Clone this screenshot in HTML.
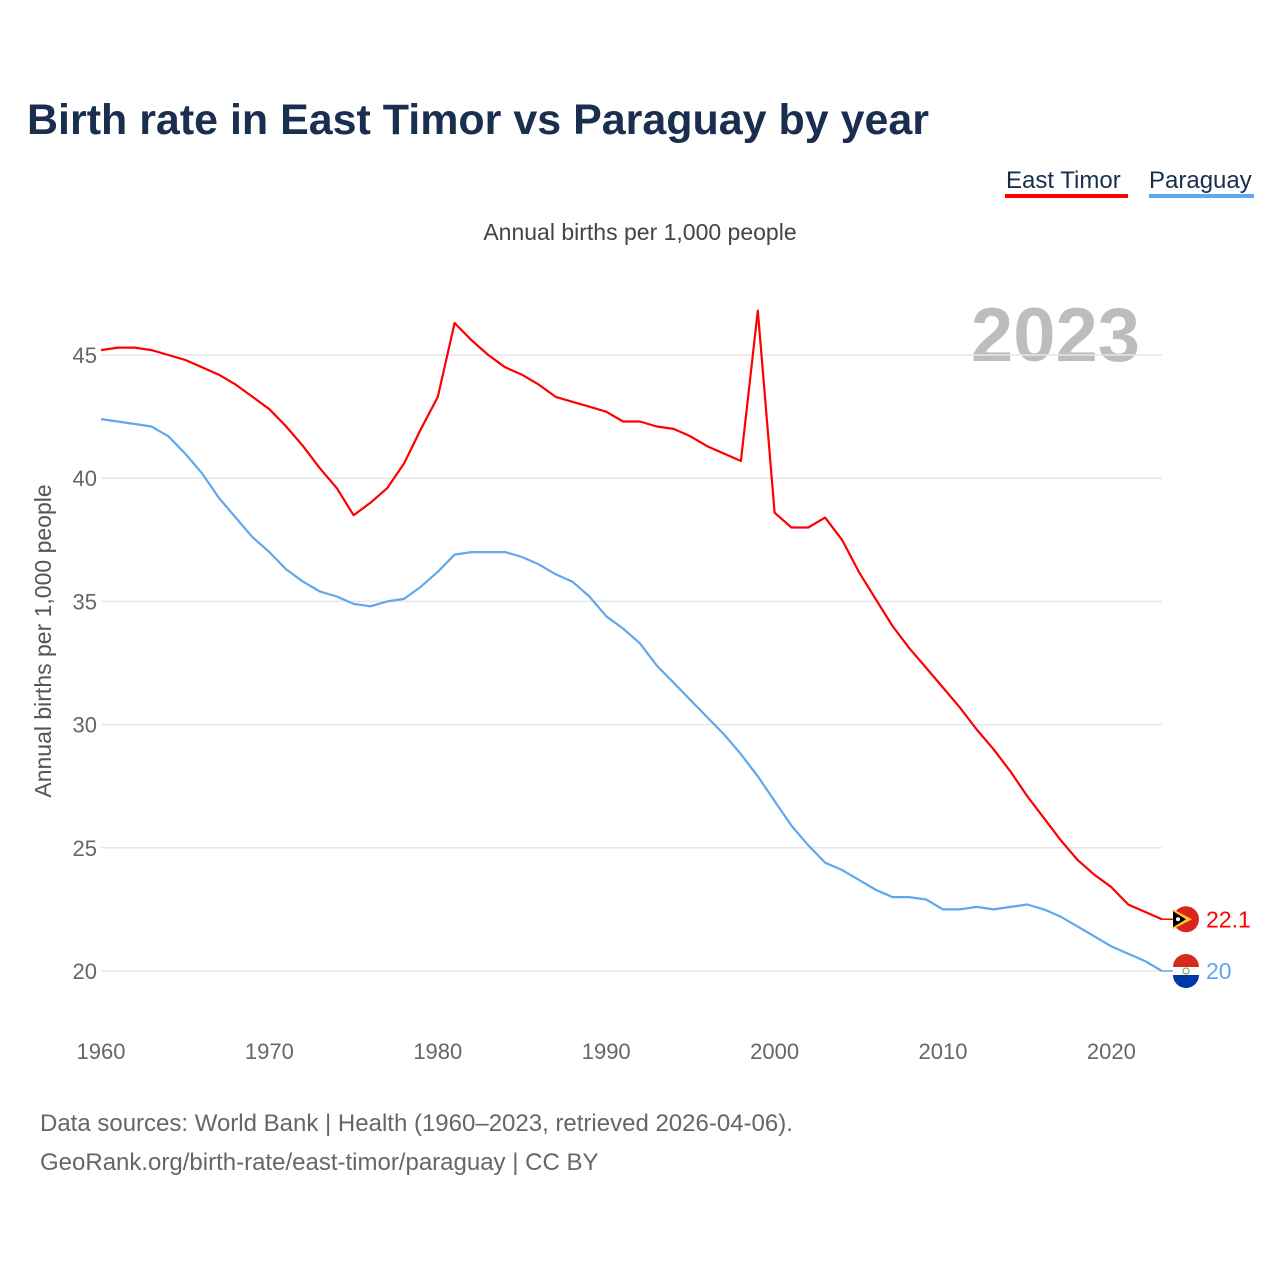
<!DOCTYPE html>
<html><head><meta charset="utf-8">
<style>
body{margin:0;background:#fff;font-family:"Liberation Sans",sans-serif;}
svg text{font-family:"Liberation Sans",sans-serif;}
</style></head>
<body>
<svg id="chart" width="1280" height="1280" viewBox="0 0 1280 1280" xmlns="http://www.w3.org/2000/svg">
<rect width="1280" height="1280" fill="#fff"/>
<text x="27" y="134" font-size="43" font-weight="bold" fill="#1a2e4f" textLength="902" lengthAdjust="spacingAndGlyphs">Birth rate in East Timor vs Paraguay by year</text>
<g>
<text x="1006" y="188" font-size="24" fill="#1a2e4f">East Timor</text>
<rect x="1005" y="194" width="123" height="4" fill="#ff0000"/>
</g>
<g>
<text x="1149" y="188" font-size="24" fill="#1a2e4f">Paraguay</text>
<rect x="1149" y="194" width="105" height="4" fill="#5da9ef"/>
</g>
<text x="640" y="240" text-anchor="middle" font-size="23" fill="#444">Annual births per 1,000 people</text>
<text x="1140" y="361" text-anchor="end" font-size="76" font-weight="bold" fill="#bdbdbd">2023</text>
<text transform="translate(51,641) rotate(-90)" text-anchor="middle" font-size="23" fill="#555">Annual births per 1,000 people</text>
<g id="grid"></g><g id="xt"></g><g id="lines"></g><g id="ends"></g>
<text x="40" y="1131" font-size="24" fill="#666">Data sources: World Bank | Health (1960–2023, retrieved 2026-04-06).</text>
<text x="40" y="1170" font-size="24" fill="#666">GeoRank.org/birth-rate/east-timor/paraguay | CC BY</text>
</svg>
<script>
const years=[];for(let y=1960;y<=2023;y++)years.push(y);
const eastTimor=[45.2,45.3,45.3,45.2,45.0,44.8,44.5,44.2,43.8,43.3,42.8,42.1,41.3,40.4,39.6,38.5,39.0,39.6,40.6,42.0,43.3,46.3,45.6,45.0,44.5,44.2,43.8,43.3,43.1,42.9,42.7,42.3,42.3,42.1,42.0,41.7,41.3,41.0,40.7,46.8,38.6,38.0,38.0,38.4,37.5,36.2,35.1,34.0,33.1,32.3,31.5,30.7,29.8,29.0,28.1,27.1,26.2,25.3,24.5,23.9,23.4,22.7,22.4,22.1];
const paraguay=[42.4,42.3,42.2,42.1,41.7,41.0,40.2,39.2,38.4,37.6,37.0,36.3,35.8,35.4,35.2,34.9,34.8,35.0,35.1,35.6,36.2,36.9,37.0,37.0,37.0,36.8,36.5,36.1,35.8,35.2,34.4,33.9,33.3,32.4,31.7,31.0,30.3,29.6,28.8,27.9,26.9,25.9,25.1,24.4,24.1,23.7,23.3,23.0,23.0,22.9,22.5,22.5,22.6,22.5,22.6,22.7,22.5,22.2,21.8,21.4,21.0,20.7,20.4,20.0];
const yTicks=[20,25,30,35,40,45];
const xTicks=[1960,1970,1980,1990,2000,2010,2020];
const NS="http://www.w3.org/2000/svg";
const xs=y=>101+(y-1960)*16.84;
const ys=v=>971-(v-20)*24.64;
function mk(t,a,p){const e=document.createElementNS(NS,t);for(const k in a)e.setAttribute(k,a[k]);p.appendChild(e);return e;}
const grid=document.getElementById('grid');
yTicks.forEach(v=>{
 const l=mk('line',{x1:101,x2:1162,y1:ys(v),y2:ys(v),stroke:'#e6e6e6','stroke-width':1.5},grid);
 
 
 const t=mk('text',{x:97,y:ys(v)+8,'text-anchor':'end','font-size':22,fill:'#666'},grid);
 
 
 t.textContent=v;
});
const xt=document.getElementById('xt');
xTicks.forEach(y=>{
 const t=mk('text',{x:xs(y),y:1059,'text-anchor':'middle','font-size':22,fill:'#666'},xt);
 
 
 t.textContent=y;
});
const lines=document.getElementById('lines');
function series(vals,color,name){
 const d=vals.map((v,i)=>(i?'L':'M')+xs(years[i]).toFixed(1)+','+ys(v).toFixed(1)).join('');
 const p=mk('path',{d:d,fill:'none',stroke:color,'stroke-width':2.2,'stroke-linejoin':'round'},lines);
 
 
}
series(paraguay,'#5da9ef','paraguay-line');
series(eastTimor,'#ff0000','east-timor-line');
const ends=document.getElementById('ends');
function endMark(vals,color,name,flag){
 const v=vals[vals.length-1],x=xs(years[years.length-1]),y=ys(v);
 const g=mk('g',{},ends);
 
 
 mk('line',{x1:x,x2:1174,y1:y,y2:y,stroke:color,'stroke-width':1.5},g);
 if(flag==='tl'){
  mk('circle',{cx:1186,cy:y,r:13,fill:'#dc241f'},g);
  mk('path',{d:`M1173,${y-10}L1192,${y}L1173,${y+10}Z`,fill:'#ffc726'},g);
  mk('path',{d:`M1173,${y-8}L1186,${y}L1173,${y+8}Z`,fill:'#000'},g);
  mk('circle',{cx:1178,cy:y,r:2,fill:'#fff'},g);
 } else {
  mk('circle',{cx:1186,cy:y,r:13,fill:'#fff'},g);
  mk('path',{d:`M1173,${y-4}A13,13 0 0 1 1199,${y-4}Z`,fill:'#d52b1e'},g);
  mk('path',{d:`M1173,${y+4}A13,13 0 0 0 1199,${y+4}Z`,fill:'#0038a8'},g);
  mk('circle',{cx:1186,cy:y,r:3,fill:'none',stroke:'#6a9a3a','stroke-width':1},g);
 }
 const t=mk('text',{x:1206,y:y+8,'font-size':23,fill:color},g);
 t.textContent=v;
}
endMark(eastTimor,'#ff0000','east-timor-end-label','tl');
endMark(paraguay,'#5da9ef','paraguay-end-label','py');
</script>
</body></html>
